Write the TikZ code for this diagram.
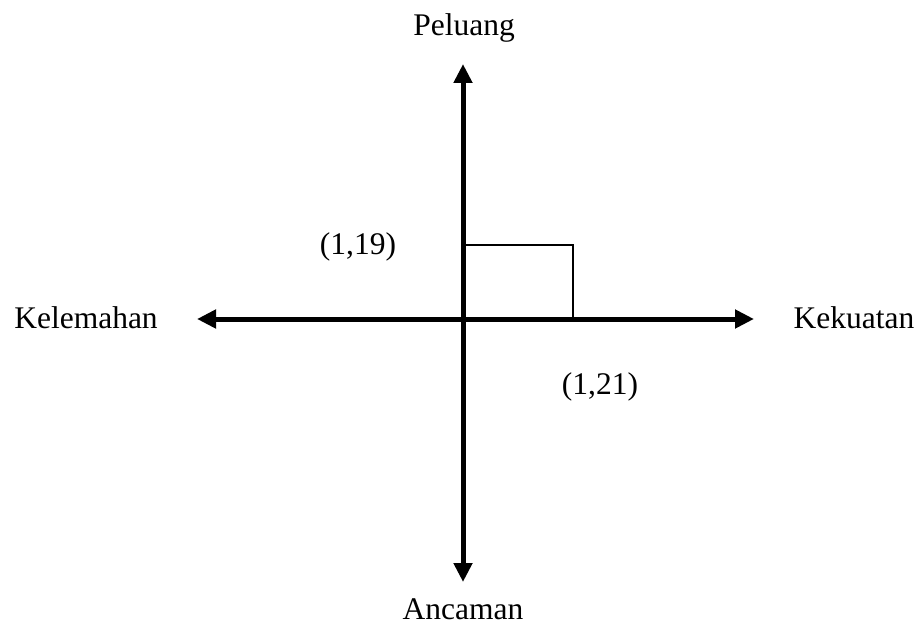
\documentclass[tikz,border=0pt]{standalone}
\usepackage{fontspec}
\setmainfont{Liberation Serif}
\usetikzlibrary{arrows.meta}
\begin{document}
\begin{tikzpicture}[x=1pt,y=-1pt,
  axis/.style={line width=5pt,{Triangle[width=18pt,length=19pt]}-{Triangle[width=18pt,length=19pt]}},
  lbl/.style={anchor=base,inner sep=0pt,font=\fontsize{31.5}{38}\selectfont},
  thin/.style={line width=1.4pt}]
\useasboundingbox (0,0) rectangle (919,626);
\coordinate (top) at (463,64);
\coordinate (bot) at (463,582);
\coordinate (lft) at (197,319);
\coordinate (rgt) at (754,319);
\coordinate (o) at (463,319);
\coordinate (r1) at (463,245);
\coordinate (r2) at (573,245);
\coordinate (r3) at (573,319);
\draw[thin] (r1) -- (r2) -- (r3);
\draw[axis] (top) -- (bot);
\draw[axis] (lft) -- (rgt);
\node[lbl] (peluang) at (464,36) {Peluang};
\node[lbl] (ancaman) at (463,619) {Ancaman};
\node[lbl] (kelemahan) at (86,328) {Kelemahan};
\node[lbl] (kekuatan) at (854,328) {Kekuatan};
\node[lbl] (a) at (358,254) {(1,19)};
\node[lbl] (b) at (600,394) {(1,21)};
\end{tikzpicture}
\end{document}
